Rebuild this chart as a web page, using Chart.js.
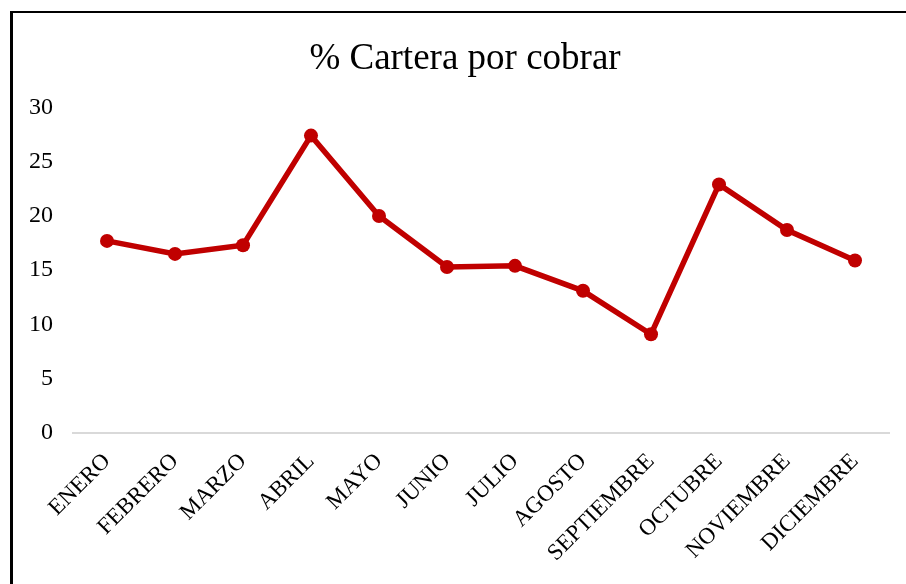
<!DOCTYPE html>
<html>
<head>
<meta charset="utf-8">
<script src="https://cdn.jsdelivr.net/npm/chart.js@4/dist/chart.umd.min.js"></script>
<style>
  html, body { margin: 0; padding: 0; background: #fff; overflow: hidden; }
  #wrap { position: relative; width: 906px; height: 584px; }
  #frame { position: absolute; left: 10px; top: 11px; width: 1000px; height: 1000px;
           border-left: 3px solid #000; border-top: 2px solid #000; pointer-events: none; }
  canvas { position: absolute; left: 0; top: 0; }
</style>
</head>
<body>
<div id="wrap">
  <canvas id="c" width="906" height="584"></canvas>
  <div id="frame"></div>
</div>
<script>
const chartTitle = '% Cartera por cobrar';
const categories = ['ENERO','FEBRERO','MARZO','ABRIL','MAYO','JUNIO','JULIO','AGOSTO','SEPTIEMBRE','OCTUBRE','NOVIEMBRE','DICIEMBRE'];
const values = [17.7, 16.5, 17.3, 27.4, 20.0, 15.3, 15.4, 13.1, 9.1, 22.9, 18.7, 15.9];
const yTicks = [0, 5, 10, 15, 20, 25, 30];

const serif = '"Liberation Serif", "Times New Roman", serif';

new Chart(document.getElementById('c'), {
  type: 'line',
  data: {
    labels: categories,
    datasets: [{
      data: values,
      yAxisID: 'y',
      borderColor: '#C00000',
      backgroundColor: '#C00000',
      borderWidth: 5.5,
      pointRadius: 7,
      pointHoverRadius: 7,
      pointBorderWidth: 0,
      tension: 0,
      fill: false
    }]
  },
  options: {
    responsive: false,
    animation: false,
    layout: { padding: { left: 24, right: 0, top: 0, bottom: 0 } },
    plugins: {
      legend: { display: false },
      tooltip: { enabled: false },
      title: {
        display: true,
        text: chartTitle,
        color: '#000',
        font: { family: serif, size: 37, weight: 'normal' },
        padding: { top: 37, bottom: 26 }
      }
    },
    scales: {
      x: {
        offset: true,
        grid: { display: false },
        border: { display: true, color: '#d9d9d9', width: 2 },
        ticks: {
          color: '#000',
          font: { family: serif, size: 23 },
          maxRotation: 45,
          minRotation: 45,
          autoSkip: false,
          padding: 7
        },
        afterFit: (s) => { s.height = 151; }
      },
      y: {
        position: 'left',
        min: yTicks[0],
        max: yTicks[yTicks.length - 1],
        grid: { display: false, drawTicks: false },
        border: { display: false },
        afterBuildTicks: (s) => { s.ticks = yTicks.map(v => ({ value: v })); },
        ticks: {
          color: '#000',
          font: { family: serif, size: 24 },
          padding: 20
        },
        afterFit: (s) => { s.width = 49; }
      },
      spacer: {
        type: 'linear',
        position: 'right',
        display: true,
        grid: { display: false, drawTicks: false },
        border: { display: false },
        ticks: { display: false },
        afterFit: (s) => { s.width = 17; }
      }
    }
  }
});
</script>
</body>
</html>
